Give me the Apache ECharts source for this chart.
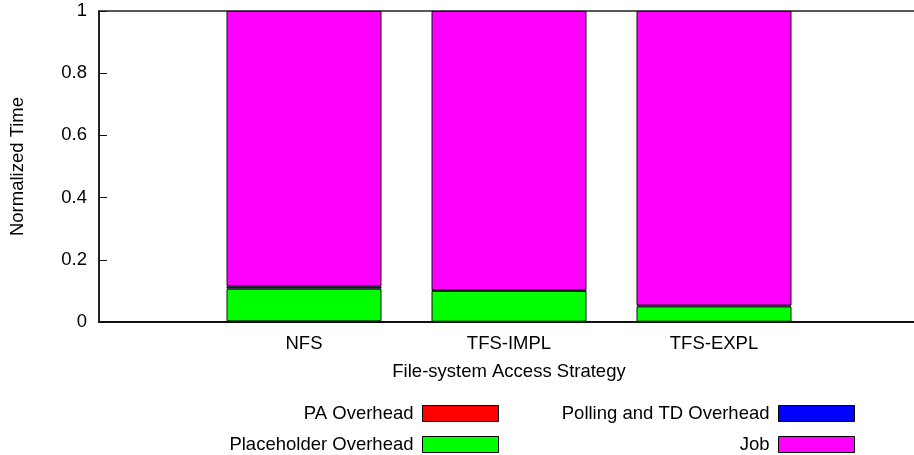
<!DOCTYPE html>
<html>
<head>
<meta charset="utf-8">
<script src="https://cdn.jsdelivr.net/npm/echarts@6/dist/echarts.min.js"></script>
<style>
  html, body { margin: 0; padding: 0; background: #fff; overflow: hidden; }
  /* 画布比窗口略宽, 右侧边框落在窗口外 (与原图一致) */
  #chart { width: 922px; height: 455px; }
</style>
</head>
<body>
<div id="chart"></div>
<script>
// 数据
const categories = ["NFS", "TFS-IMPL", "TFS-EXPL"]
const paOverhead = [0.002, 0.001, 0.001]
const placeholderOverhead = [0.105, 0.099, 0.049]
const pollingOverhead = [0.008, 0.002, 0.003]
const job = [0.885, 0.898, 0.947]
const yTicks = [0, 0.2, 0.4, 0.6, 0.8, 1]

const seriesDefs = [
    { name: "PA Overhead", color: "#ff0000", data: paOverhead },
    { name: "Placeholder Overhead", color: "#00ff00", data: placeholderOverhead },
    { name: "Polling and TD Overhead", color: "#0000ff", data: pollingOverhead },
    { name: "Job", color: "#ff00ff", data: job }
]

// gnuplot 风格: x 轴从 -1 到 3
const pad = arr => [null].concat(arr, [null])
const font = "'Liberation Sans', Arial, sans-serif"

// 图例位置 (文字在左, 色块在右)
const legendPos = [
    { right: 423, top: 404 },
    { right: 423, top: 435 },
    { right: 67, top: 404 },
    { right: 67, top: 435 }
]

;(function () {
    let myChart = echarts.init(document.getElementById("chart"))
    let option = {
        animation: false,
        textStyle: { fontFamily: font },
        grid: {
            left: 97,
            top: 11,
            right: 0,
            bottom: 133,
            show: true,
            borderColor: "#222",
            borderWidth: 1.5
        },
        legend: seriesDefs.map((s, i) => ({
            data: [s.name],
            align: "right",
            right: legendPos[i].right,
            top: legendPos[i].top,
            padding: 0,
            itemWidth: 76,
            itemHeight: 16,
            icon: "rect",
            selectedMode: false,
            textStyle: { fontSize: 18.5, color: "#000", fontFamily: font, padding: [0, 4, 0, 0] },
            itemStyle: { borderColor: "#000", borderWidth: 1 }
        })),
        xAxis: {
            type: "category",
            boundaryGap: false,
            data: [""].concat(categories, [""]),
            name: "File-system Access Strategy",
            nameLocation: "middle",
            nameGap: 40,
            nameTextStyle: { fontSize: 18.5, color: "#000", fontFamily: font },
            axisLine: { lineStyle: { color: "#111", width: 2 } },
            axisTick: { show: false },
            axisLabel: { fontSize: 18.5, color: "#000", margin: 12, fontFamily: font },
            splitLine: { show: false }
        },
        yAxis: {
            type: "value",
            min: 0,
            max: 1,
            interval: 0.2,
            name: "Normalized Time",
            nameLocation: "middle",
            nameGap: 72,
            nameTextStyle: { fontSize: 18.5, color: "#000", fontFamily: font },
            axisLine: { show: true, lineStyle: { color: "#111", width: 1.5 } },
            axisTick: { show: true, inside: true, length: 8, lineStyle: { color: "#111" } },
            axisLabel: {
                fontSize: 18.5,
                color: "#000",
                margin: 12,
                fontFamily: font,
                formatter: v => yTicks.includes(v) ? String(v) : ""
            },
            splitLine: { show: false }
        },
        series: seriesDefs.map(s => ({
            name: s.name,
            type: "bar",
            stack: "total",
            barWidth: 155,
            data: pad(s.data),
            itemStyle: { color: s.color, borderColor: "#111", borderWidth: 1 }
        }))
    }
    myChart.setOption(option)
    window.addEventListener("resize", function () {
        myChart.resize()
    })
})()
</script>
</body>
</html>
